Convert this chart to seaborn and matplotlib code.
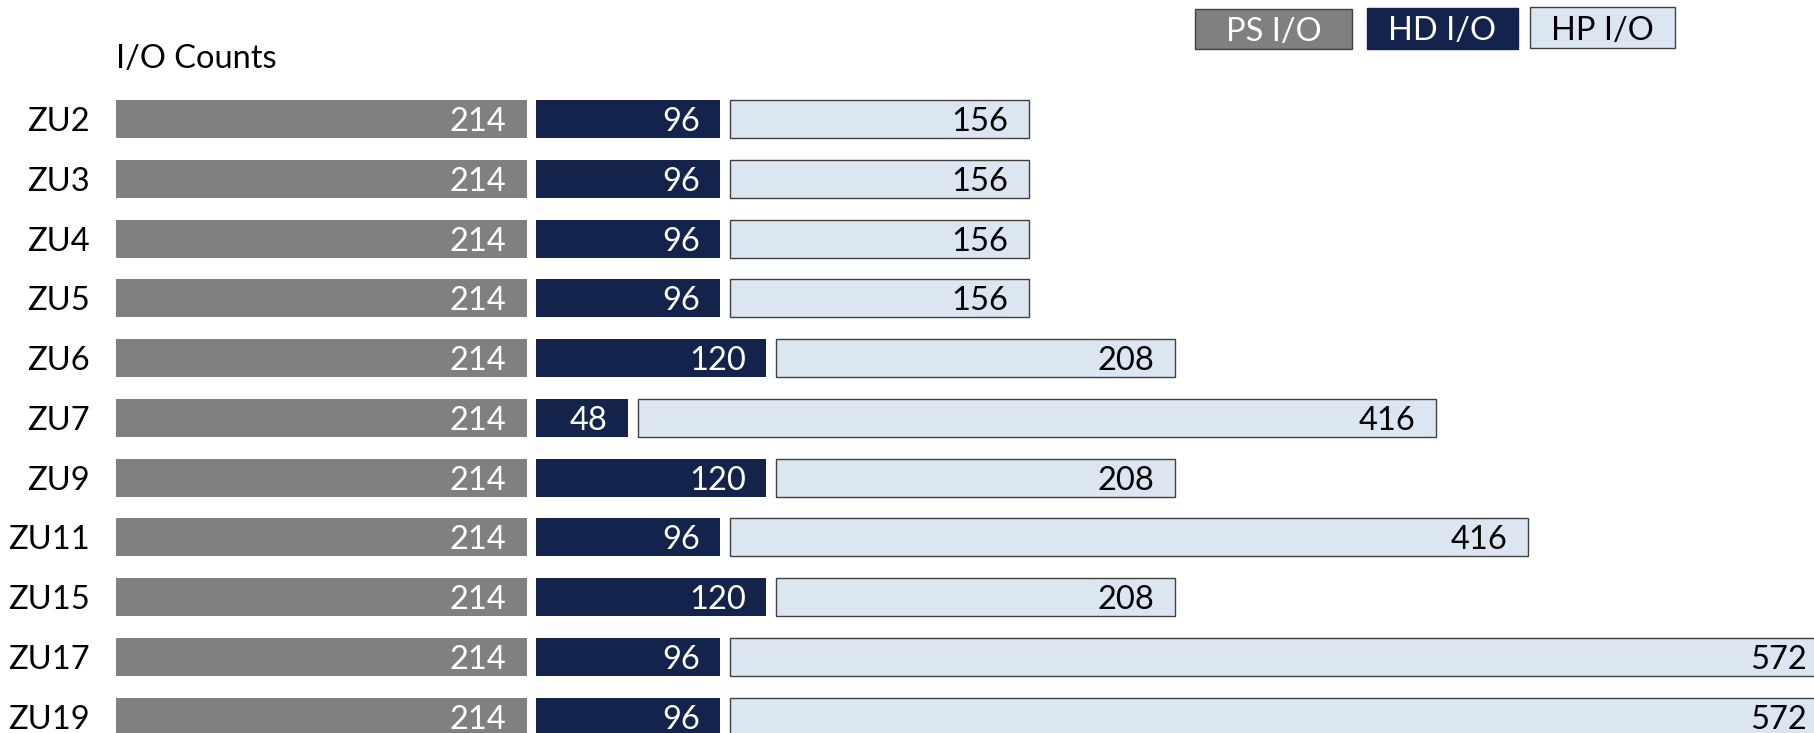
import numpy as np
import pandas as pd
import matplotlib
matplotlib.use("Agg")
import matplotlib.pyplot as plt
from matplotlib.patches import Rectangle
import seaborn as sns

# ---------------- data ----------------
categories = ["ZU2", "ZU3", "ZU4", "ZU5", "ZU6", "ZU7", "ZU9", "ZU11", "ZU15", "ZU17", "ZU19"]
ps_io = [214, 214, 214, 214, 214, 214, 214, 214, 214, 214, 214]
hd_io = [96, 96, 96, 96, 120, 48, 120, 96, 120, 96, 96]
hp_io = [156, 156, 156, 156, 208, 416, 208, 416, 208, 572, 572]
series_names = ["PS I/O", "HD I/O", "HP I/O"]
axis_title = "I/O Counts"

# ---------------- style / layout ----------------
W, H, DPI = 1814, 733, 100
PX_PER_UNIT = 1.919
X0 = 116                 # left edge of bars (px)
GAP = 9.5 / PX_PER_UNIT  # white gap between segments (data units)
ROW0, PITCH = 119.0, 59.77
BAR_H = 38 / PITCH
PS_COLOR = "#808080"
HD_COLOR = "#13234b"
HP_COLOR = "#dce6f2"
EDGE = "#404040"
FS = 23.5

sns.set_theme(style="white")
plt.rcParams["font.family"] = ["Lato", "DejaVu Sans"]

fig = plt.figure(figsize=(W / DPI, H / DPI), dpi=DPI)
ax = fig.add_axes([X0 / W, 0, 1 - X0 / W, 1])

df = pd.DataFrame({"model": categories, "PS": ps_io, "HD": hd_io, "HP": hp_io})
df["hd_left"] = df["PS"] + GAP
df["hp_left"] = df["hd_left"] + df["HD"] + GAP

sns.barplot(data=df, y="model", x="PS", order=categories, color=PS_COLOR,
            saturation=1, width=BAR_H, edgecolor="none", linewidth=0, ax=ax)
sns.barplot(data=df, y="model", x="HD", order=categories, color=HD_COLOR,
            saturation=1, width=BAR_H, edgecolor="none", linewidth=0,
            left=df["hd_left"].values, ax=ax)
sns.barplot(data=df, y="model", x="HP", order=categories, color=HP_COLOR,
            saturation=1, width=BAR_H, edgecolor=EDGE, linewidth=1.0,
            left=df["hp_left"].values, ax=ax)

# value labels, right-aligned inside each segment
pad_pt = -20.7 * 72 / DPI
for i, row in df.iterrows():
    for end, val, col in [(row["PS"], row["PS"], "white"),
                          (row["hd_left"] + row["HD"], row["HD"], "white"),
                          (row["hp_left"] + row["HP"], row["HP"], "black")]:
        ax.annotate(f"{int(val)}", xy=(end, i), xytext=(pad_pt, 0),
                    textcoords="offset points", ha="right", va="center_baseline",
                    fontsize=FS, color=col, annotation_clip=False)

ax.set_xlim(0, (W - X0) / PX_PER_UNIT)
ax.set_ylim((H - ROW0) / PITCH, -ROW0 / PITCH)
ax.set_xlabel("")
ax.set_ylabel("")
ax.set_xticks([])
ax.tick_params(axis="y", length=0, pad=26 * 72 / DPI, labelsize=FS, labelcolor="black")
for t in ax.get_yticklabels():
    t.set_va("center_baseline")
for s in ax.spines.values():
    s.set_visible(False)
ax.set_facecolor("white")

# axis title
fig.text(X0 / W, 1 - 56.5 / H, axis_title, ha="left", va="center_baseline",
         fontsize=FS, color="black")

# legend boxes (top right)
legend_boxes = [(1195, 1352, 9, 49), (1367, 1518, 8, 49), (1530, 1675, 7, 48)]
legend_styles = [(PS_COLOR, EDGE, "white"), (HD_COLOR, HD_COLOR, "white"), (HP_COLOR, EDGE, "black")]
for name, (x0, x1, y0, y1), (fc, ec, tc) in zip(series_names, legend_boxes, legend_styles):
    fig.add_artist(Rectangle((x0 / W, 1 - y1 / H), (x1 - x0) / W, (y1 - y0) / H,
                             transform=fig.transFigure, facecolor=fc, edgecolor=ec,
                             linewidth=1.0))
    fig.text((x0 + x1) / 2 / W, 1 - (y0 + y1) / 2 / H, name, ha="center",
             va="center_baseline", fontsize=FS, color=tc)

fig.savefig("out.png", dpi=DPI, facecolor="white")
